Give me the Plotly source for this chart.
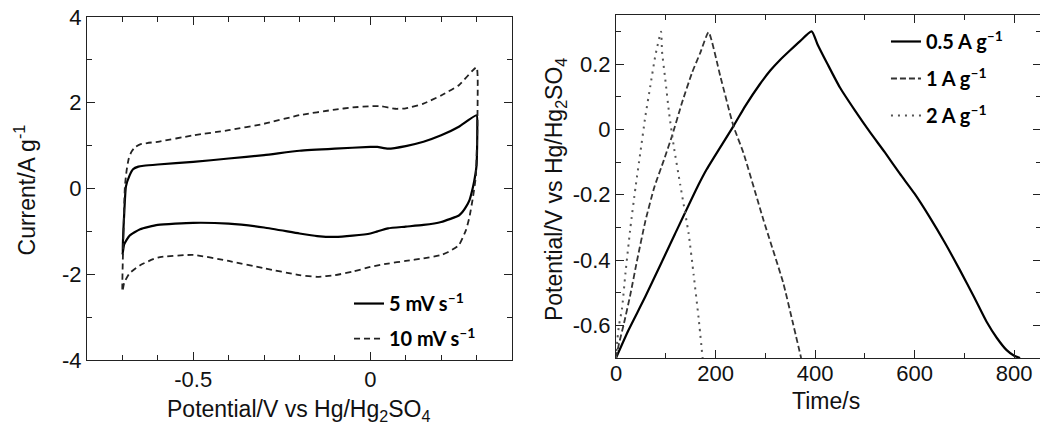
import plotly.graph_objects as go

# ---------------- Cyclic voltammetry data (left panel) ----------------
cv5_potential = [-0.700, -0.695, -0.690, -0.680, -0.670, -0.655, -0.640, -0.600, -0.500, -0.400, -0.300,
                 -0.200, -0.100, 0.000, 0.020, 0.050, 0.100, 0.150, 0.200, 0.250, 0.300,
                 0.302, 0.300, 0.295, 0.290, 0.280, 0.270, 0.260, 0.250, 0.200, 0.150, 0.100, 0.050,
                 0.020, 0.000, -0.050, -0.100, -0.150, -0.200, -0.300, -0.400, -0.500, -0.600,
                 -0.650, -0.680, -0.695, -0.700]
cv5_current = [-1.55, -0.60, 0.05, 0.30, 0.45, 0.51, 0.53, 0.56, 0.62, 0.70, 0.78,
               0.88, 0.93, 0.97, 0.97, 0.93, 0.99, 1.09, 1.24, 1.44, 1.71,
               1.40, 0.55, 0.25, 0.04, -0.27, -0.43, -0.55, -0.63, -0.78, -0.85, -0.89, -0.93,
               -1.00, -1.05, -1.10, -1.13, -1.11, -1.05, -0.91, -0.82, -0.80, -0.85,
               -0.95, -1.10, -1.30, -1.55]

cv10_potential = [-0.700, -0.697, -0.693, -0.688, -0.682, -0.675, -0.665, -0.650, -0.630, -0.600,
                  -0.500, -0.400, -0.300, -0.200, -0.100, -0.050, 0.000, 0.030, 0.070, 0.100,
                  0.150, 0.200, 0.250, 0.300,
                  0.303, 0.302, 0.298, 0.290, 0.280, 0.270, 0.250, 0.220, 0.200, 0.150, 0.100,
                  0.050, 0.000, -0.050, -0.100, -0.150, -0.200, -0.300, -0.400, -0.500, -0.600,
                  -0.650, -0.680, -0.695, -0.700]
cv10_current = [-2.40, -1.05, 0.04, 0.43, 0.70, 0.85, 0.96, 1.03, 1.06, 1.09,
                1.24, 1.36, 1.51, 1.71, 1.84, 1.89, 1.92, 1.92, 1.86, 1.87,
                1.98, 2.17, 2.41, 2.83,
                2.60, 1.40, 0.30, -0.19, -0.66, -0.97, -1.32, -1.48, -1.55, -1.63, -1.69,
                -1.75, -1.83, -1.94, -2.02, -2.06, -2.02, -1.86, -1.69, -1.55, -1.61,
                -1.79, -1.98, -2.20, -2.40]

# ---------------- Galvanostatic charge/discharge data (right panel) ----------------
gcd05_time = [0, 25, 59, 118, 166, 182, 236, 260, 289, 310, 330, 350, 370, 393,
              405, 425, 450, 480, 510, 540, 570, 600, 630, 660, 690, 720, 745, 765, 785, 800, 812]
gcd05_potential = [-0.700, -0.615, -0.512, -0.322, -0.169, -0.123, 0.010, 0.072, 0.138, 0.180,
                   0.213, 0.242, 0.270, 0.300,
                   0.260, 0.200, 0.128, 0.058, -0.008, -0.070, -0.135, -0.197, -0.268, -0.345,
                   -0.428, -0.515, -0.590, -0.638, -0.676, -0.693, -0.700]

gcd1_time = [0, 5.4, 15.4, 28.8, 42, 59, 77, 96, 112.6, 132.7, 153, 169.5, 186,
             210, 236, 256, 296, 336, 355, 372]
gcd1_potential = [-0.700, -0.660, -0.598, -0.506, -0.404, -0.281, -0.177, -0.095, -0.020, 0.082,
                  0.174, 0.235, 0.297,
                  0.160, 0.010, -0.072, -0.276, -0.470, -0.590, -0.700]

gcd2_time = [0, 3, 6, 12, 19, 29, 39, 49, 59, 69, 79, 90.5,
             92.5, 99, 107, 116, 129, 146, 156, 166, 174]
gcd2_potential = [-0.700, -0.640, -0.600, -0.550, -0.440, -0.300, -0.180, -0.070, 0.040, 0.133,
                  0.225, 0.299,
                  0.238, 0.153, 0.046, -0.051, -0.169, -0.320, -0.445, -0.578, -0.700]

cv_names = ["5 mV s<sup>–1</sup>", "10 mV s<sup>–1</sup>"]
gcd_names = ["0.5 A g<sup>–1</sup>", "1 A g<sup>–1</sup>", "2 A g<sup>–1</sup>"]

# tick labels (hyphen-minus as in the reference)
cv_xticks = [-0.5, 0]
cv_xticktext = ["-0.5", "0"]
cv_yticks = [-4, -2, 0, 2, 4]
cv_yticktext = ["-4", "-2", "0", "2", "4"]
gcd_xticks = [0, 200, 400, 600, 800]
gcd_xticktext = ["0", "200", "400", "600", "800"]
gcd_yticks = [-0.6, -0.4, -0.2, 0, 0.2]
gcd_yticktext = ["-0.6", "-0.4", "-0.2", "0", "0.2"]

fig = go.Figure()

fig.add_trace(go.Scatter(x=cv5_potential, y=cv5_current, mode="lines", name=cv_names[0],
                         line=dict(color="black", width=2.2, shape="spline", smoothing=0.5),
                         xaxis="x", yaxis="y", legend="legend", legendgroup="a"))
fig.add_trace(go.Scatter(x=cv10_potential, y=cv10_current, mode="lines", name=cv_names[1],
                         line=dict(color="#222222", width=1.8, dash="6px,4px", shape="spline", smoothing=0.5),
                         xaxis="x", yaxis="y", legend="legend", legendgroup="b"))

fig.add_trace(go.Scatter(x=gcd05_time, y=gcd05_potential, mode="lines", name=gcd_names[0],
                         line=dict(color="black", width=2.2, shape="spline", smoothing=0.6),
                         xaxis="x2", yaxis="y2", legend="legend2", legendgroup="c"))
fig.add_trace(go.Scatter(x=gcd1_time, y=gcd1_potential, mode="lines", name=gcd_names[1],
                         line=dict(color="#333333", width=1.8, dash="6px,3px", shape="spline", smoothing=0.5),
                         xaxis="x2", yaxis="y2", legend="legend2", legendgroup="d"))
fig.add_trace(go.Scatter(x=gcd2_time, y=gcd2_potential, mode="lines", name=gcd_names[2],
                         line=dict(color="#555555", width=2, dash="2px,5px", shape="spline", smoothing=0.5),
                         xaxis="x2", yaxis="y2", legend="legend2", legendgroup="e"))

tickfont = dict(family="Liberation Sans, Arial, sans-serif", size=22, color="#111111")
titlefont = dict(family="Liberation Sans, Arial, sans-serif", size=23, color="#111111")
axis_common = dict(showline=True, linecolor="#222222", linewidth=1, mirror="ticks",
                   ticks="inside", ticklen=8, tickwidth=1, tickcolor="#222222",
                   showgrid=False, zeroline=False, tickfont=tickfont, automargin=False,
                   ticklabeloverflow="allow")

legfont = dict(family="Lato, Open Sans, sans-serif", size=20, color="black", weight="bold")

# The page body adds an 8px offset, so the figure covers the remaining 1040x419 view.
fig.update_layout(
    width=1040, height=419, autosize=False,
    margin=dict(l=0, r=0, t=0, b=0, pad=0, autoexpand=False),
    paper_bgcolor="white", plot_bgcolor="white",
    xaxis=dict(domain=[0.07596, 0.48462], range=[-0.8, 0.4], anchor="y",
               tickvals=cv_xticks, ticktext=cv_xticktext,
               minor=dict(ticks="inside", dtick=0.1, tick0=0, ticklen=5, tickcolor="#222222"),
               **axis_common),
    yaxis=dict(domain=[0.15990, 0.97852], range=[-4, 4], anchor="x",
               tickvals=cv_yticks, ticktext=cv_yticktext,
               minor=dict(ticks="inside", dtick=1, tick0=0, ticklen=5, tickcolor="#222222"),
               **axis_common),
    xaxis2=dict(domain=[0.58462, 0.99327], range=[0, 854], anchor="y2",
                tickvals=gcd_xticks, ticktext=gcd_xticktext, ticklabelstandoff=-4,
                minor=dict(ticks="inside", dtick=100, tick0=0, ticklen=5, tickcolor="#222222"),
                **axis_common),
    yaxis2=dict(domain=[0.16468, 0.98329], range=[-0.7, 0.35], anchor="x2",
                tickvals=gcd_yticks, ticktext=gcd_yticktext,
                minor=dict(ticks="inside", dtick=0.1, tick0=0, ticklen=5, tickcolor="#222222"),
                **axis_common),
    legend=dict(x=0.3279, y=0.3412, xanchor="left", yanchor="top", font=legfont,
                bgcolor="rgba(0,0,0,0)", tracegroupgap=6, traceorder="grouped"),
    legend2=dict(x=0.8442, y=0.9666, xanchor="left", yanchor="top", font=legfont,
                 bgcolor="rgba(0,0,0,0)", tracegroupgap=8, traceorder="grouped"),
    showlegend=True,
    annotations=[
        dict(text="Current/A g<sup>-1</sup>", xref="paper", yref="paper", x=0.0163, y=0.5668,
             showarrow=False, textangle=-90, xanchor="center", yanchor="middle", font=titlefont),
        dict(text="Potential/V vs Hg/Hg<sub>2</sub>SO<sub>4</sub>", xref="paper", yref="paper",
             x=0.2793, y=0.0382, showarrow=False, xanchor="center", yanchor="middle", font=titlefont),
        dict(text="Potential/V vs Hg/Hg<sub>2</sub>SO<sub>4</sub>", xref="paper", yref="paper",
             x=0.527, y=0.5657, showarrow=False, textangle=-90, xanchor="center", yanchor="middle",
             font=titlefont),
        dict(text="Time/s", xref="paper", yref="paper", x=0.7865, y=0.0630, showarrow=False,
             xanchor="center", yanchor="middle", font=titlefont),
    ],
)

fig.write_html("out.html")
